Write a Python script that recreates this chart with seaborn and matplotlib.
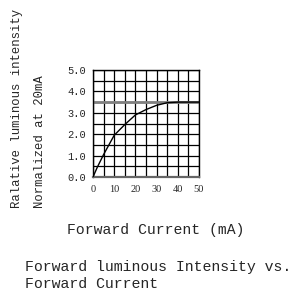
import matplotlib
matplotlib.use("Agg")
import matplotlib.pyplot as plt
import seaborn as sns
import numpy as np
import pandas as pd

# curve (forward current in mA, relative intensity)
current_ma = [0, 2, 5, 10, 15, 20, 25, 30, 35, 40, 45, 50]
rel_intensity = [0.0, 0.45, 1.05, 1.95, 2.45, 2.9, 3.15, 3.35, 3.47, 3.5, 3.5, 3.5]
x_ticks = [0, 10, 20, 30, 40, 50]
y_ticks = [0.0, 1.0, 2.0, 3.0, 4.0, 5.0]
y_label_1 = "Ralative luminous intensity"
y_label_2 = "Normalized at 20mA"
x_label = "Forward Current\u00a0(mA)"
title_lines = ["Forward luminous Intensity vs.", "Forward Current"]

sns.set_style("white")
plt.rcParams['font.family'] = ['Liberation Mono', 'DejaVu Sans Mono']

df = pd.DataFrame({"current": current_ma, "intensity": rel_intensity})

W, H = 297, 302
fig = plt.figure(figsize=(W / 100, H / 100), dpi=100)
ax = fig.add_axes([93 / W, 1 - 177 / H, 106 / W, 107 / H])

ax.set_xlim(0, 50)
ax.set_ylim(0, 5)
ax.set_xticks(x_ticks)
ax.set_xticklabels([str(t) for t in x_ticks], fontsize=7.5, family='Liberation Serif')
ax.set_yticks(y_ticks)
ax.set_yticklabels(["%.1f" % t for t in y_ticks], fontsize=7.5)
ax.set_xticks(np.arange(0, 51, 5), minor=True)
ax.set_yticks(np.arange(0, 5.01, 0.5), minor=True)
ax.grid(which='both', color='black', linewidth=0.9)
ax.tick_params(which='both', length=0, pad=5)
ax.tick_params(axis='x', pad=6)
for sp in ax.spines.values():
    sp.set_color('black')
    sp.set_linewidth(1.0)
ax.spines['bottom'].set_color('#666666')
ax.spines['bottom'].set_linewidth(1.6)

# saturation level line
ax.axhline(max(rel_intensity), color='#808080', linewidth=2.0, zorder=2)

sns.lineplot(data=df, x="current", y="intensity", ax=ax, color='black',
             linewidth=1.0, zorder=3)
ax.set_xlabel("")
ax.set_ylabel("")

fig.text(17 / W, 1 - 208 / H, y_label_1, rotation=90, fontsize=8.8,
         ha='center', va='bottom')
fig.text(40 / W, 1 - 208 / H, y_label_2, rotation=90, fontsize=8.8,
         ha='center', va='bottom')
fig.text(67 / W, 1 - 230 / H, x_label, fontsize=10.6, ha='left', va='center')
fig.text(25 / W, 1 - 267 / H, title_lines[0], fontsize=10.7, ha='left', va='center')
fig.text(25 / W, 1 - 284 / H, title_lines[1], fontsize=10.7, ha='left', va='center')

fig.savefig("out.png", dpi=100)
